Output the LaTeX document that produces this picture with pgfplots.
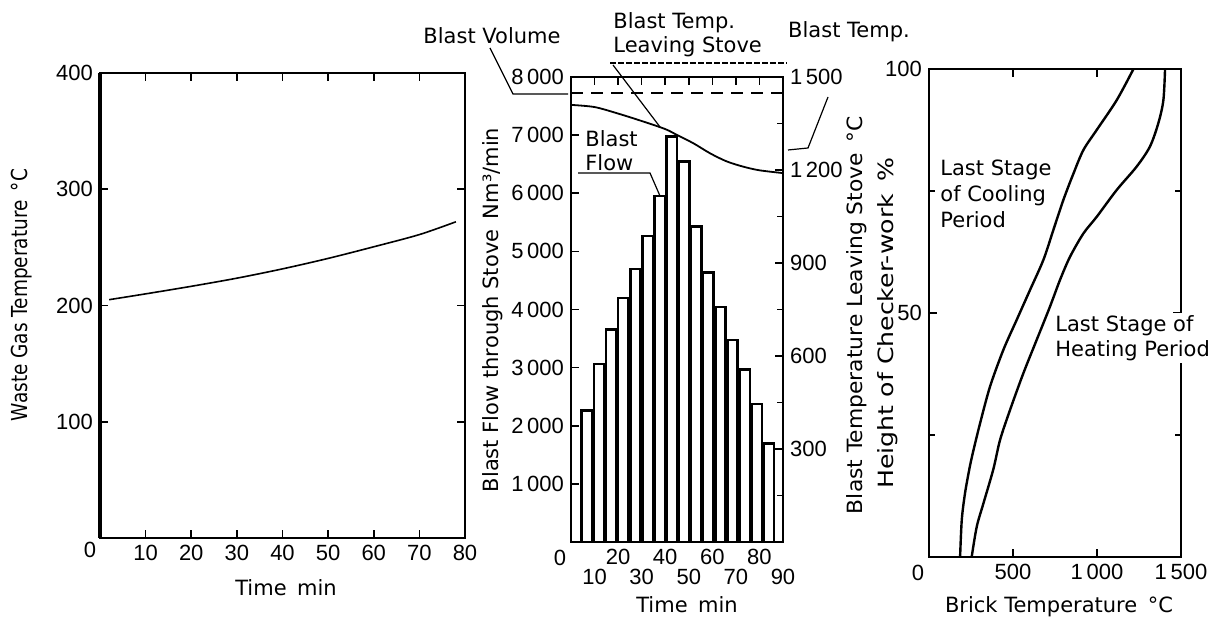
\documentclass[border=0pt]{standalone}
\usepackage{fontspec}
\setmainfont{DejaVu Sans}
\newfontfamily\tickfont{Liberation Sans}
\usepackage{graphicx}
\usepackage{pgfplots}
\pgfplotsset{compat=1.18}

\pgfplotsset{
  oldstyle/.style={
    scale only axis,
    anchor=south west,
    axis line style={line width=1pt},
    every tick/.style={line width=0.8pt, black},
    major tick length=4pt,
    minor tick length=3pt,
    tick align=inside,
    /pgf/number format/assume math mode=true,
    tick label style={font=\tickfont\fontsize{11}{12}\selectfont},
  },
}

\begin{document}
\begin{tikzpicture}[font=\fontsize{10.5}{12}\selectfont]
\useasboundingbox (0,0) rectangle (609.5pt,312.5pt);

% ---- left: waste gas temperature
\begin{axis}[oldstyle,
  at={(50pt,43.5pt)}, width=182.5pt, height=232.5pt,
  xmin=0, xmax=80, ymin=0, ymax=400,
  xtick={10,20,...,80},
  ytick={100,200,300,400},
]
\addplot[black, line width=0.8pt, smooth] coordinates {
  (2,205) (10,210) (20,216.5) (30,223.5) (40,231.5) (50,240.5) (60,250.5) (70,261) (78,272)
};
\end{axis}
\draw[line width=1.6pt] (50pt,43.5pt) -- (50pt,276pt);
\node[font=\tickfont\fontsize{11}{12}\selectfont] at (45pt,37.5pt) {0};
\node at (143pt,18.5pt) {Time\enspace min};
\node[rotate=90] at (11pt,165pt) {\fontsize{11}{13}\selectfont\scalebox{0.84}[1]{Waste Gas Temperature\enspace °C}};

% ---- middle: blast flow through stove
\begin{axis}[oldstyle,
  at={(285.5pt,41.5pt)}, width=106pt, height=232.5pt,
  xmin=0, xmax=90, ymin=0, ymax=8000,
  xtick={20,40,60,80},
  xticklabels={20,40,60,80},
  extra x ticks={10,30,50,70,90},
  extra x tick labels={10,30,50,70,90},
  extra x tick style={tick label style={yshift=-10pt}},
  ytick={1000,2000,...,8000},
  yticklabels={1\,000,2\,000,3\,000,4\,000,5\,000,6\,000,7\,000,8\,000},
  ytick pos=left,
]
\addplot[ybar, bar width=4.4, fill=white, draw=black, line width=1.3pt] coordinates {
  (6.78,2260) (11.93,3060) (17.08,3660) (22.23,4200) (27.38,4700) (32.53,5267)
  (37.68,5955) (42.83,6976) (47.98,6546) (53.13,5430) (58.28,4636) (63.43,4040)
  (68.58,3477) (73.73,2972) (78.88,2375) (84.03,1690)
};
\addplot[black, line width=0.9pt, dash pattern=on 6pt off 4pt] coordinates {
  (0,7720) (90,7720)
};
\end{axis}
\begin{axis}[oldstyle,
  at={(285.5pt,41.5pt)}, width=106pt, height=232.5pt,
  xmin=0, xmax=90, ymin=0, ymax=1500,
  hide x axis, axis y line*=right,
  ytick={300,600,...,1500},
  yticklabels={300,600,900,1\,200,1\,500},
  minor ytick={150,450,750,1050,1350},
]
\addplot[black, line width=0.9pt, smooth] coordinates {
  (0,1410) (10,1403) (20,1382) (30,1358) (40,1332) (45,1313) (52,1286)
  (59,1254) (66,1228) (73,1211) (80,1199) (90,1190)
};
\end{axis}
\node[font=\tickfont\fontsize{11}{12}\selectfont] at (280pt,33.5pt) {0};
\node at (343.5pt,10pt) {Time\enspace min};
\node[rotate=90] at (246.5pt,157.5pt) {Blast Flow through Stove\enspace Nm³/min};
\node[rotate=90] at (428.5pt,155pt) {\scalebox{1.04}[1]{Blast Temperature Leaving Stove\enspace °C}};

% annotations of the middle panel
\node at (246pt,294.5pt) {Blast Volume};
\draw[line width=0.6pt] (245pt,288.5pt) -- (256.5pt,265.5pt) -- (284pt,265.5pt);
\node[anchor=north west, align=left, inner sep=0pt] at (306.5pt,306.5pt) {Blast Temp.\\Leaving Stove};
\draw[line width=0.6pt, dash pattern=on 3pt off 1pt] (305pt,281pt) -- (393.5pt,281pt);
\draw[line width=0.6pt] (306.5pt,280pt) -- (330pt,249pt);
\node at (424.5pt,296.5pt) {Blast Temp.};
\draw[line width=0.6pt] (414pt,264pt) -- (404pt,238.5pt) -- (394pt,237.5pt);
\node[anchor=north west, align=left, inner sep=0pt] at (292.5pt,247.5pt) {Blast\\Flow};
\draw[line width=0.6pt] (289pt,226pt) -- (325pt,226pt) -- (330pt,214.5pt);

% ---- right: brick temperature
\begin{axis}[oldstyle,
  at={(464.5pt,34pt)}, width=126pt, height=244pt,
  xmin=0, xmax=1500, ymin=0, ymax=100,
  xtick={500,1000,1500},
  xticklabels={500,1\,000,1\,500},
  ytick={50,100},
  minor ytick={25,75},
]
\addplot[black, line width=1.2pt, smooth] coordinates {
  (185,0) (195,7.6) (214,13) (240,18) (262,21.5) (304,27.4) (363,34.9)
  (442,42.4) (522,48.6) (601,54.7) (681,60.9) (740,67) (800,73.2) (860,78.6)
  (919,83.4) (998,87.5) (1117,93.6) (1217,100)
};
\addplot[black, line width=1.2pt, smooth] coordinates {
  (254,0) (284,6.2) (324,11) (383,18) (423,24) (482,30.1) (561,37.6)
  (641,44.5) (720,51.3) (780,56.8) (839,61.5) (919,66.3) (998,69.7)
  (1117,75.2) (1236,80) (1315,84.1) (1365,88.9) (1395,93.6) (1405,100)
};
\end{axis}
\node[font=\tickfont\fontsize{11}{12}\selectfont] at (459pt,26pt) {0};
\node at (529.5pt,9pt) {Brick Temperature\enspace °C};
\node[rotate=90] at (444pt,151pt) {\scalebox{1.2}[1]{Height of Checker-work\enspace \%}};
\node[anchor=north west, align=left, inner sep=0pt, font=\fontsize{10.5}{13}\selectfont] at (470pt,232.5pt) {Last Stage\\of Cooling\\Period};
\node[anchor=north west, align=left, inner sep=1pt, fill=white, font=\fontsize{10.5}{12.5}\selectfont] at (526.5pt,156pt) {Last Stage of\\Heating Period};
\end{tikzpicture}
\end{document}
